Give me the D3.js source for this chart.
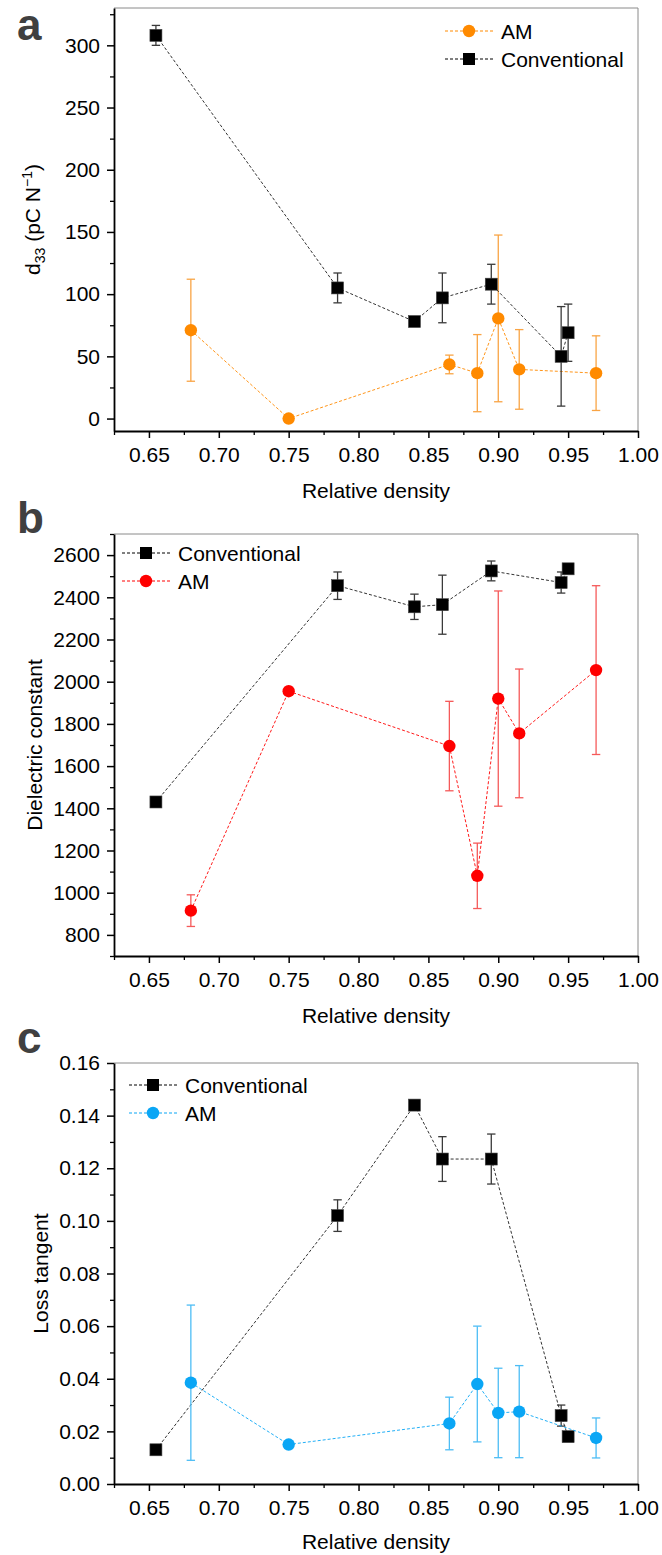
<!DOCTYPE html>
<html>
<head>
<meta charset="utf-8">
<script src="https://cdn.jsdelivr.net/npm/d3@7"></script>
<style>
  html, body { margin: 0; padding: 0; background: #fff; }
  svg { display: block; font-family: "Liberation Sans", Arial, sans-serif; }
</style>
</head>
<body>
<svg id="chart" width="662" height="1555"></svg>
<script>
// ---------------- DATA ----------------
const densityConv = [0.655, 0.785, 0.84, 0.86, 0.895, 0.945, 0.95];
const densityAM   = [0.68, 0.75, 0.865, 0.885, 0.90, 0.915, 0.97];

const d33Conv    = [308, 105, 78, 97, 108, 50, 69];
const d33ConvErr = [8, 12, 0, 20, 16, 40, 23];
const d33AM      = [71, 0, 43.5, 36.5, 80.5, 39.5, 36.5];
const d33AMErr   = [41, 0, 7.5, 31, 67, 32, 30];

const epsConv    = [1430, 2455, 2355, 2365, 2525, 2470, 2535];
const epsConvErr = [15, 65, 60, 140, 47, 50, 15];
const epsAM      = [915, 1955, 1695, 1080, 1920, 1755, 2055];
const epsAMErr   = [75, 0, 212, 155, 510, 305, 400];

const tanConv    = [0.013, 0.102, 0.144, 0.1235, 0.1235, 0.026, 0.018];
const tanConvErr = [0.001, 0.006, 0.001, 0.0085, 0.0095, 0.004, 0.001];
const tanAM      = [0.0385, 0.015, 0.023, 0.038, 0.027, 0.0275, 0.0175];
const tanAMErr   = [0.0295, 0, 0.01, 0.022, 0.017, 0.0175, 0.0076];

const xTicks = [0.65, 0.70, 0.75, 0.80, 0.85, 0.90, 0.95, 1.00];
const xMinor = [0.625, 0.675, 0.725, 0.775, 0.825, 0.875, 0.925, 0.975];
const d33Ticks = [0, 50, 100, 150, 200, 250, 300];
const d33Minor = [25, 75, 125, 175, 225, 275, 325];
const epsTicks = [800, 1000, 1200, 1400, 1600, 1800, 2000, 2200, 2400, 2600];
const epsMinor = [700, 900, 1100, 1300, 1500, 1700, 1900, 2100, 2300, 2500, 2700];
const tanTicks = [0, 0.02, 0.04, 0.06, 0.08, 0.10, 0.12, 0.14, 0.16];
const tanMinor = [0.01, 0.03, 0.05, 0.07, 0.09, 0.11, 0.13, 0.15];

const xLabel = "Relative density";
const seriesNames = ["Conventional", "AM"];

// ---------------- LAYOUT ----------------
const svg = d3.select("#chart");
const X0 = 114, X1 = 638;
const CONV_COLOR = "#000000";

const panels = [
  { letter: "a", top: 8, bottom: 431, domain: [-10, 330], ticks: d33Ticks, minor: d33Minor, fmt: d3.format("d"),
    conv: d33Conv, convErr: d33ConvErr, am: d33AM, amErr: d33AMErr, amColor: "#FF8A00", amErrColor: "#F9A444",
    letterY: 40, ylabX: 40, xlabY: 498, legend: { x: 445, y: 31, order: ["AM", "Conventional"] }, convOnTop: true },
  { letter: "b", top: 534, bottom: 956, domain: [700, 2700], ticks: epsTicks, minor: epsMinor, fmt: d3.format("d"),
    conv: epsConv, convErr: epsConvErr, am: epsAM, amErr: epsAMErr, amColor: "#FF0000", amErrColor: "#F55A5A",
    letterY: 533, ylabX: 42, xlabY: 1023, legend: { x: 122, y: 553, order: ["Conventional", "AM"] }, convOnTop: false, ylabel: "Dielectric constant" },
  { letter: "c", top: 1063, bottom: 1484, domain: [0, 0.16], ticks: tanTicks, minor: tanMinor, fmt: d3.format(".2f"),
    conv: tanConv, convErr: tanConvErr, am: tanAM, amErr: tanAMErr, amColor: "#0AA6F5", amErrColor: "#4DBDF5",
    letterY: 1053, ylabX: 48, xlabY: 1549, legend: { x: 129, y: 1085, order: ["Conventional", "AM"] }, convOnTop: false, ylabel: "Loss tangent" }
];

const x = d3.scaleLinear().domain([0.625, 1.0]).range([X0, X1]);

panels.forEach(p => {
  const y = d3.scaleLinear().domain(p.domain).range([p.bottom, p.top]);
  const g = svg.append("g");

  // frame (top/right)
  g.append("line").attr("x1", X0).attr("x2", X1).attr("y1", p.top).attr("y2", p.top)
    .attr("stroke", "#8a8a8a").attr("stroke-width", 1);
  g.append("line").attr("x1", X1).attr("x2", X1).attr("y1", p.top).attr("y2", p.bottom)
    .attr("stroke", "#8a8a8a").attr("stroke-width", 1);

  // minor ticks
  g.append("g").attr("transform", `translate(0,${p.bottom})`)
    .call(d3.axisBottom(x).tickValues(xMinor).tickSize(4).tickFormat(""))
    .call(s => s.select(".domain").remove())
    .selectAll("line").attr("stroke-width", 1.3);
  g.append("g").attr("transform", `translate(${X0},0)`)
    .call(d3.axisLeft(y).tickValues(p.minor).tickSize(4).tickFormat(""))
    .call(s => s.select(".domain").remove())
    .selectAll("line").attr("stroke-width", 1.3);

  // major axes
  const xa = g.append("g").attr("transform", `translate(0,${p.bottom})`)
    .call(d3.axisBottom(x).tickValues(xTicks).tickFormat(d3.format(".2f")).tickSize(7).tickSizeOuter(0).tickPadding(9));
  const ya = g.append("g").attr("transform", `translate(${X0},0)`)
    .call(d3.axisLeft(y).tickValues(p.ticks).tickFormat(p.fmt).tickSize(7).tickSizeOuter(0).tickPadding(7));
  [xa, ya].forEach(a => {
    a.select(".domain").attr("stroke-width", 1.8);
    a.selectAll(".tick line").attr("stroke-width", 1.5);
    a.selectAll("text").attr("font-size", 21).attr("fill", "#000")
      .attr("font-family", '"Liberation Sans", Arial, sans-serif');
  });

  // panel letter
  svg.append("text").attr("x", 17).attr("y", p.letterY).text(p.letter)
    .attr("font-size", 44).attr("font-weight", "bold").attr("fill", "#404040");

  // x label
  svg.append("text").attr("x", (X0 + X1) / 2).attr("y", p.xlabY).attr("text-anchor", "middle")
    .attr("font-size", 21).text(xLabel);

  // y label
  const yl = svg.append("text")
    .attr("transform", `translate(${p.ylabX},${(p.top + p.bottom) / 2}) rotate(-90)`)
    .attr("text-anchor", "middle").attr("font-size", 21);
  if (p.letter === "a") {
    yl.append("tspan").text("d");
    yl.append("tspan").attr("font-size", 14).attr("dy", 5).text("33");
    yl.append("tspan").attr("dy", -5).text(" (pC N");
    yl.append("tspan").attr("font-size", 14).attr("dy", -8).text("\u22121");
    yl.append("tspan").attr("dy", 8).text(")");
  } else {
    yl.text(p.ylabel);
  }

  // series drawing
  const line = d3.line().x(d => x(d[0])).y(d => y(d[1]));
  function drawSeries(xs, vs, es, color, errColor, shape) {
    const sg = g.append("g");
    const pts = xs.map((d, i) => [d, vs[i], es[i]]);
    sg.append("path").datum(pts).attr("d", line).attr("fill", "none")
      .attr("stroke", color).attr("stroke-width", 1).attr("stroke-dasharray", "3,2")
      .attr("opacity", shape === "square" ? 0.8 : 0.9);
    pts.filter(d => d[2] > 0).forEach(d => {
      const cx = x(d[0]), yt = y(d[1] + d[2]), yb = y(d[1] - d[2]);
      sg.append("line").attr("x1", cx).attr("x2", cx).attr("y1", yt).attr("y2", yb)
        .attr("stroke", errColor).attr("stroke-width", 1.3);
      [yt, yb].forEach(yy => sg.append("line").attr("x1", cx - 4.2).attr("x2", cx + 4.2)
        .attr("y1", yy).attr("y2", yy).attr("stroke", errColor).attr("stroke-width", 1.3));
    });
    if (shape === "square") {
      sg.selectAll("rect.m").data(pts).join("rect").attr("class", "m")
        .attr("x", d => x(d[0]) - 6).attr("y", d => y(d[1]) - 6)
        .attr("width", 12).attr("height", 12).attr("fill", "#000").attr("stroke", "#444").attr("stroke-width", 0.6);
    } else {
      sg.selectAll("circle.m").data(pts).join("circle").attr("class", "m")
        .attr("cx", d => x(d[0])).attr("cy", d => y(d[1])).attr("r", 6.2).attr("fill", color);
    }
  }
  const drawConv = () => drawSeries(densityConv, p.conv, p.convErr, CONV_COLOR, "#3a3a3a", "square");
  const drawAM = () => drawSeries(densityAM, p.am, p.amErr, p.amColor, p.amErrColor, "circle");
  if (p.convOnTop) { drawAM(); drawConv(); } else { drawConv(); drawAM(); }

  // legend
  const lg = svg.append("g");
  p.legend.order.forEach((name, i) => {
    const ly = p.legend.y + i * 28;
    const isConv = name === seriesNames[0];
    const col = isConv ? CONV_COLOR : p.amColor;
    lg.append("line").attr("x1", p.legend.x).attr("x2", p.legend.x + 48).attr("y1", ly).attr("y2", ly)
      .attr("stroke", col).attr("stroke-width", 1).attr("stroke-dasharray", "3,2");
    const mx = p.legend.x + 24;
    if (isConv) {
      lg.append("rect").attr("x", mx - 6).attr("y", ly - 6).attr("width", 12).attr("height", 12).attr("fill", "#000");
    } else {
      lg.append("circle").attr("cx", mx).attr("cy", ly).attr("r", 6.2).attr("fill", col);
    }
    lg.append("text").attr("x", p.legend.x + 56).attr("y", ly + 7.5).attr("font-size", 21).text(name);
  });
});
</script>
</body>
</html>
